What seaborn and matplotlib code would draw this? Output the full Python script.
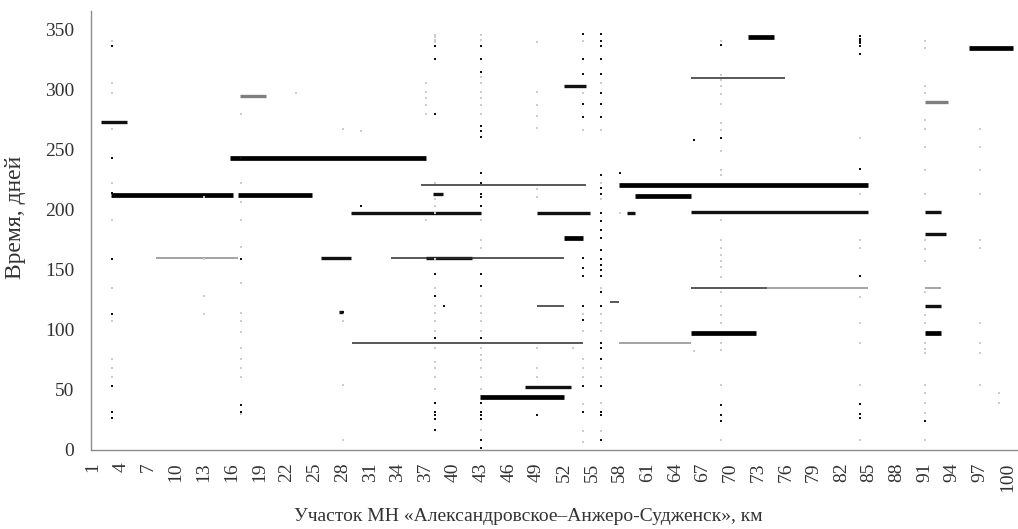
import pandas as pd
import seaborn as sns
import matplotlib.pyplot as plt

# horizontal segments: start km, end km, day, line type
seg_start = [1.9, 2.9, 16.7, 7.8, 16.9, 15.8, 25.7, 28.9, 27.6, 29.0, 33.3, 37.0,
             36.5, 37.8, 49.0, 49.0, 42.9, 47.8, 52.0, 52.0, 57.9, 59.7, 58.8, 56.9,
             57.9, 65.7, 65.7, 65.7, 73.9, 65.7, 71.9, 95.8, 91.0, 91.0, 91.0, 91.0,
             91.0, 91.0]
seg_end = [4.7, 16.2, 24.7, 16.7, 19.7, 37.0, 28.9, 43.0, 28.0, 54.0, 52.0, 42.0,
           54.3, 38.9, 54.8, 52.0, 52.0, 52.7, 54.0, 54.4, 84.9, 65.7, 59.7, 57.9,
           65.7, 75.9, 84.9, 73.9, 84.9, 72.8, 74.7, 100.6, 93.5, 92.8, 93.3, 92.8,
           92.8, 92.8]
seg_day = [273, 212, 212, 160, 294, 243, 160, 197, 115, 89, 160, 160,
           220, 213, 197, 120, 44, 52, 176, 303, 220, 211, 197, 123,
           89, 309, 198, 135, 135, 97, 343, 334, 289, 198, 180, 135,
           120, 97]
seg_kind = ["medium", "heavy", "heavy", "gray", "graywide", "heavy", "medium", "medium",
            "medium", "thin", "thin", "medium", "thin", "medium", "medium", "thin",
            "heavy", "medium", "heavy", "medium", "heavy", "heavy", "medium", "thin",
            "gray", "thin", "medium", "thin", "gray", "heavy", "heavy", "heavy",
            "graywide", "medium", "medium", "gray", "medium", "heavy"]

# single observations, grouped by km
col_km = [3, 13, 17, 23, 28, 30, 37, 38, 39, 43, 49, 53, 54, 56, 58, 66, 69, 84, 91, 97, 99]
col_dark = [
    [336, 243, 214, 159, 113, 53, 32, 27],
    [],
    [243, 159, 37, 32],
    [],
    [115],
    [203],
    [],
    [336, 325, 279, 146, 128, 93, 39, 32, 29, 26, 17],
    [120],
    [336, 325, 314, 269, 265, 260, 230, 222, 213, 210, 203, 146, 136, 93, 39, 32, 29, 26, 8, 2],
    [29],
    [],
    [346, 325, 313, 288, 277, 160, 151, 145, 120, 108, 53, 32],
    [346, 340, 336, 325, 313, 297, 288, 277, 229, 218, 213, 197, 190, 183, 176, 166,
     159, 154, 150, 145, 131, 120, 89, 85, 76, 53, 32, 29, 8],
    [230],
    [258],
    [337, 259, 37, 29, 24],
    [344, 342, 340, 338, 336, 329, 234, 197, 145, 38, 30, 27],
    [24],
    [],
    [],
]
col_light = [
    [340, 305, 297, 267, 222, 191, 135, 107, 76, 68, 61],
    [210, 159, 128, 113],
    [279, 222, 206, 191, 169, 139, 114, 107, 98, 85, 76, 68, 61, 30],
    [297],
    [267, 107, 54, 8],
    [265],
    [305, 298, 293, 287, 279, 191],
    [345, 343, 341, 339, 222, 209, 203, 197, 159, 135, 120, 114, 107, 99, 85, 73, 68, 61, 51],
    [],
    [345, 341, 310, 305, 298, 293, 287, 279, 191, 175, 168, 128, 120, 114, 107, 99, 85,
     79, 75, 68, 61, 51, 17],
    [339, 298, 287, 278, 268, 217, 210, 85, 68, 61],
    [85],
    [340, 297, 266, 113, 99, 76, 68, 61, 38, 16, 7],
    [305, 266, 222, 209, 135, 113, 106, 99, 68, 61, 39, 16],
    [197],
    [82],
    [340, 312, 308, 303, 296, 288, 272, 266, 249, 233, 229, 191, 175, 168, 162, 157,
     152, 144, 131, 120, 112, 106, 89, 83, 54, 8],
    [259, 213, 175, 168, 127, 106, 89, 54, 8],
    [340, 334, 303, 297, 274, 267, 252, 233, 213, 175, 167, 157, 131, 112, 106, 89, 84,
     81, 54, 47, 39, 31, 8],
    [267, 252, 233, 213, 175, 168, 106, 89, 81, 54],
    [47, 39],
]

x_ticks = list(range(1, 101, 3))

seg_rows = []
for i in range(len(seg_day)):
    seg_rows.append({"seg": i, "km": seg_start[i], "day": seg_day[i], "kind": seg_kind[i]})
    seg_rows.append({"seg": i, "km": seg_end[i], "day": seg_day[i], "kind": seg_kind[i]})
seg_df = pd.DataFrame(seg_rows)

dot_rows = []
for km, dark, light in zip(col_km, col_dark, col_light):
    for d in light:
        dot_rows.append({"km": km, "day": d, "tone": "light"})
    for d in dark:
        dot_rows.append({"km": km, "day": d, "tone": "dark"})
dot_df = pd.DataFrame(dot_rows)

sns.set_style("white")
plt.rcParams["font.family"] = ["Liberation Serif", "DejaVu Serif"]

fig = plt.figure(figsize=(10.18, 5.29), dpi=100)
ax = fig.add_axes([91 / 1018, 79 / 529, 926 / 1018, 439 / 529])

line_colors = {"heavy": "#000000", "medium": "#111111", "thin": "#2a2a2a",
               "gray": "#8a8a8a", "graywide": "#7f7f7f"}
line_widths = {"heavy": 3.4, "medium": 2.4, "thin": 1.1, "gray": 1.1, "graywide": 2.4}

sns.lineplot(data=seg_df, x="km", y="day", units="seg", estimator=None, sort=False,
             hue="kind", size="kind", palette=line_colors, sizes=line_widths,
             legend=False, solid_capstyle="butt", ax=ax)

sns.scatterplot(data=dot_df[dot_df.tone == "light"], x="km", y="day", color="#cdcdcd",
                marker="s", s=3, linewidth=0, legend=False, zorder=3, ax=ax)
sns.scatterplot(data=dot_df[dot_df.tone == "dark"], x="km", y="day", color="#111111",
                marker="s", s=4.5, linewidth=0, legend=False, zorder=4, ax=ax)

ax.set_xlim(0.78, 101.0)
ax.set_ylim(0, 365)
ax.set_xticks(x_ticks)
ax.set_xticklabels([str(k) for k in x_ticks], rotation=90)
ax.set_xticks(range(1, 101), minor=True)
ax.set_yticks(range(0, 351, 50))
ax.set_yticks(range(0, 361, 10), minor=True)

for side in ["top", "right"]:
    ax.spines[side].set_visible(False)
for side in ["left", "bottom"]:
    ax.spines[side].set_color("#8c8c8c")
    ax.spines[side].set_linewidth(1.0)

ax.tick_params(axis="both", which="both", direction="out", color="#8c8c8c",
               length=4, width=1, labelsize=14, labelcolor="#333333")
ax.tick_params(axis="x", which="major", pad=5)
ax.tick_params(axis="y", which="major", pad=8)

ax.set_xlabel("Участок МН «Александровское–Анжеро-Судженск», км",
              fontsize=14, color="#333333")
ax.set_ylabel("Время, дней", fontsize=17, color="#333333")
ax.xaxis.set_label_coords(0.472, -0.132)
ax.yaxis.set_label_coords(-0.0705, 0.53)

fig.savefig("out.png", dpi=100)
